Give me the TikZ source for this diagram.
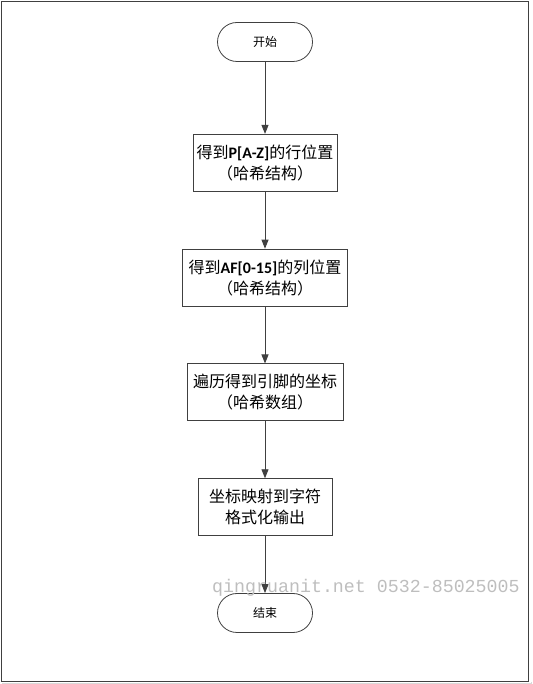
\documentclass[tikz,border=0pt]{standalone}
\usepackage{fontspec}
\setmainfont{Carlito}
\newfontfamily\cjk{Noto Sans CJK SC}
\newfontfamily\latin{Carlito}
\newfontfamily\markfont{Liberation Mono}
\usepackage{tikz}
\usetikzlibrary{positioning,arrows.meta}

\definecolor{linegray}{RGB}{64,64,64}
\definecolor{markgray}{RGB}{190,190,190}

\begin{document}
\begin{tikzpicture}[x=1pt, y=1pt,
	terminal/.style={draw=linegray, line width=0.8pt, rounded corners=19.5pt, minimum width=95pt, minimum height=39pt, inner sep=0pt, font=\fontsize{12}{14}\cjk},
	procbox/.style={draw=linegray, line width=0.8pt, minimum height=57pt, inner sep=0pt, align=center, font=\fontsize{16}{21}\cjk},
	flow/.style={draw=linegray, line width=0.9pt, -{Triangle[width=7pt,length=9pt]}},
	node distance=57pt]
	\useasboundingbox (0,0) rectangle (532,684);

	% Page frame with a light shadow
	\draw[color=gray!30, line width=1pt] (531,2) -- (531,0.5) -- (2,0.5);
	\draw[color=linegray, line width=1.5pt] (1.5,2.5) rectangle (528.5,682.5);

	% Flow chart, from top to bottom
	\node[terminal] (start) at (265,642) {开始};
	\node[procbox, minimum width=144pt, below=72pt of start] (rowpos) {得到{\latin\bfseries P[A-Z]}的行位置\\（哈希结构）};
	\node[procbox, minimum width=165pt, below=of rowpos] (colpos) {得到{\latin\bfseries AF[0-15]}的列位置\\（哈希结构）};
	\node[procbox, minimum width=156pt, below=of colpos] (pincoord) {遍历得到引脚的坐标\\（哈希数组）};
	\node[procbox, minimum width=134pt, below=of pincoord] (mapout) {坐标映射到字符\\格式化输出};
	\node[terminal, below=57pt of mapout] (end) {结束};

	\draw[flow] (start) -- (rowpos);
	\draw[flow] (rowpos) -- (colpos);
	\draw[flow] (colpos) -- (pincoord);
	\draw[flow] (pincoord) -- (mapout);
	\draw[flow] (mapout) -- (end);

	% Watermark over the last terminal
	\node[anchor=base west, inner sep=0pt, text=markgray, font=\fontsize{18.3}{20}\markfont] (mark) at (212,91) {qingruanit.net 0532-85025005};
\end{tikzpicture}
\end{document}
